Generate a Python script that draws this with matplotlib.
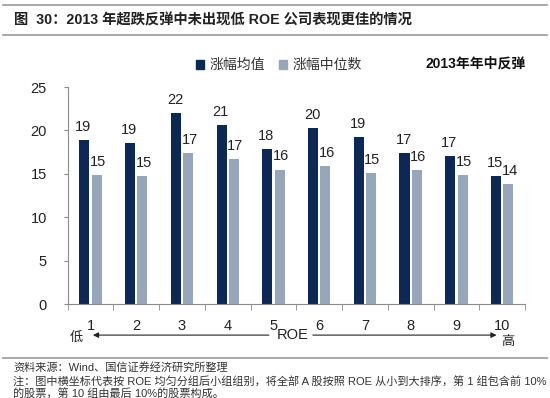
import matplotlib
matplotlib.use('Agg')
import matplotlib.pyplot as plt
from matplotlib.patches import Patch
from matplotlib.lines import Line2D
import numpy as np

plt.rcParams['font.family'] = ['Liberation Sans', 'Noto Sans CJK SC', 'DejaVu Sans']

NAVY = "#0B2856"
GRAYBLUE = "#97A7BA"
AXIS = "#8C8C8C"

# 数据
groups = ["1", "2", "3", "4", "5", "6", "7", "8", "9", "10"]
mean_vals = [18.9, 18.6, 22.0, 20.6, 17.9, 20.3, 19.2, 17.4, 17.1, 14.7]
median_vals = [14.9, 14.7, 17.4, 16.7, 15.5, 15.9, 15.1, 15.4, 14.9, 13.8]
mean_labels = [19, 19, 22, 21, 18, 20, 19, 17, 17, 15]
median_labels = [15, 15, 17, 17, 16, 16, 15, 16, 15, 14]
yticks = [0, 5, 10, 15, 20, 25]

fig = plt.figure(figsize=(5.5, 3.98), dpi=100)
ax = fig.add_axes([0.1231, 0.236, 0.8314, 0.5452])

x = np.arange(len(groups))
w = 0.22
off = 0.135
b1 = ax.bar(x - off, mean_vals, w, color=NAVY, label="涨幅均值")
b2 = ax.bar(x + off, median_vals, w, color=GRAYBLUE, label="涨幅中位数")

for bar, lab in zip(b1, mean_labels):
    ax.text(bar.get_x() + bar.get_width() / 2 - 0.02, bar.get_height() + 0.7, str(lab),
            ha="center", va="bottom", fontsize=10.5, color="#222222")
for bar, lab in zip(b2, median_labels):
    ax.text(bar.get_x() + bar.get_width() / 2 + 0.03, bar.get_height() + 0.7, str(lab),
            ha="center", va="bottom", fontsize=10.5, color="#222222")

ax.set_xlim(-0.5, len(groups) - 0.5)
ax.set_ylim(0, 25)
ax.set_yticks(yticks)
ax.set_xticks(x)
ax.set_xticklabels(groups)
ax.set_xticks(np.arange(-0.5, len(groups)), minor=True)
ax.tick_params(axis="x", which="major", length=0, pad=11, labelsize=10.5, colors="#222222")
ax.tick_params(axis="x", which="minor", length=4, color=AXIS, direction="out")
ax.tick_params(axis="y", length=3, color=AXIS, pad=12, labelsize=10.5, labelcolor="#222222")
for s in ["top", "right"]:
    ax.spines[s].set_visible(False)
for s in ["left", "bottom"]:
    ax.spines[s].set_color(AXIS)

# ROE 方向箭头
tr = ax.get_xaxis_transform()
ya = -0.143
ax.annotate("", xy=(-0.01, ya), xytext=(3.96, ya), xycoords=tr, textcoords=tr,
            arrowprops=dict(arrowstyle="-|>", color="#222222", lw=0.8, mutation_scale=8),
            annotation_clip=False)
ax.annotate("", xy=(8.94, ya), xytext=(4.80, ya), xycoords=tr, textcoords=tr,
            arrowprops=dict(arrowstyle="-|>", color="#222222", lw=0.8, mutation_scale=8),
            annotation_clip=False)
ax.text(4.42, ya, "ROE", transform=tr, ha="center", va="center", fontsize=10.5, color="#222222")
ax.text(-0.32, ya - 0.01, "低", transform=tr, ha="center", va="center", fontsize=9.5, color="#222222")
ax.text(9.13, ya - 0.03, "高", transform=tr, ha="center", va="center", fontsize=9.5, color="#222222")

# 标题与分隔线
fig.add_artist(Line2D([0.005, 0.995], [1 - 5 / 398, 1 - 5 / 398], color="#999999", lw=1.2))
fig.add_artist(Line2D([0.005, 0.995], [1 - 35 / 398, 1 - 35 / 398], color="#999999", lw=1.2))
fig.text(14 / 550, 1 - 20 / 398, "图  30：2013 年超跌反弹中未出现低 ROE 公司表现更佳的情况",
         ha="left", va="center", fontsize=10.3, fontweight="bold", color="#222222")

handles = [Patch(color=NAVY, label="涨幅均值"), Patch(color=GRAYBLUE, label="涨幅中位数")]
fig.legend(handles=handles, loc="center", bbox_to_anchor=(279 / 550, 1 - 65 / 398), ncol=2,
           frameon=False, fontsize=10, handlelength=0.6, handleheight=0.6, handletextpad=0.4,
           columnspacing=1.0, labelcolor="#333333")
fig.text(476 / 550, 1 - 64 / 398, "2013年年中反弹", ha="center", va="center",
         fontsize=10, fontweight="bold", color="#111111")

# 脚注
fig.add_artist(Line2D([0.005, 0.995], [1 - 358 / 398, 1 - 358 / 398], color="#999999", lw=1.2))
fig.text(13 / 550, 1 - 367 / 398, "资料来源：Wind、国信证券经济研究所整理",
         ha="left", va="center", fontsize=8, color="#333333")
fig.text(13 / 550, 1 - 381 / 398,
         "注：图中横坐标代表按 ROE 均匀分组后小组组别，将全部 A 股按照 ROE 从小到大排序，第 1 组包含前 10%",
         ha="left", va="center", fontsize=8, color="#333333")
fig.text(13 / 550, 1 - 393 / 398, "的股票，第 10 组由最后 10%的股票构成。",
         ha="left", va="center", fontsize=8, color="#333333")

fig.savefig("out.png", dpi=100)
